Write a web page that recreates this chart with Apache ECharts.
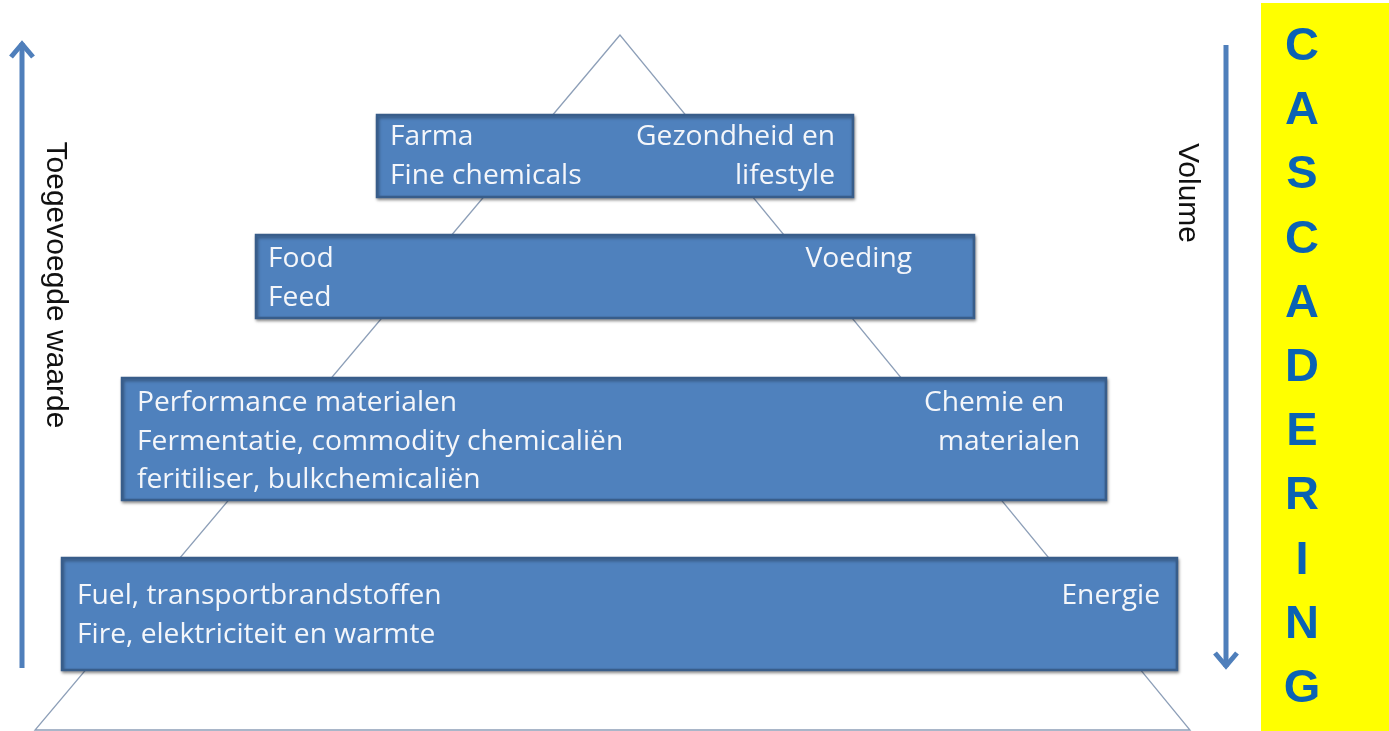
<!DOCTYPE html>
<html>
<head>
<meta charset="utf-8">
<script src="https://cdn.jsdelivr.net/npm/echarts@6/dist/echarts.min.js"></script>
<style>
html,body{margin:0;padding:0;background:#fff;}
#chart{width:1389px;height:731px;}
</style>
</head>
<body>
<div id="chart"></div>
<script>
// ---- data ----
const tierLeftLabels = [
  ["Farma", "Fine chemicals"],
  ["Food", "Feed"],
  ["Performance materialen", "Fermentatie, commodity chemicaliën", "feritiliser, bulkchemicaliën"],
  ["Fuel, transportbrandstoffen", "Fire, elektriciteit en warmte"]
];
const tierRightLabels = [
  ["Gezondheid en", "lifestyle"],
  ["Voeding"],
  ["Chemie en", "materialen"],
  ["Energie"]
];
const tierXStart = [377, 256, 122, 62];
const tierXEnd = [853, 974, 1106, 1177];
const tierYStart = [115, 235, 378, 558];
const tierYEnd = [197, 318, 500, 670];
const pyramidX = [620, 35, 1190];
const pyramidY = [35, 730, 730];
const leftAxisLabel = "Toegevoegde waarde";
const rightAxisLabel = "Volume";
const sideWord = "CASCADERING".split("");

// ---- styling ----
const boxFill = "#4f81bd";
const boxStroke = "#385d8a";
const textColor = "#f4f6fa";
const fontFam = "'Open Sans', 'Liberation Sans', sans-serif";
const textFont = '28.2px ' + fontFam;
const textFirstOffset = [22, 24, 25, 38];
const lineGap = 38.5;
const leftPad = [13, 12, 15, 15];
// right label anchor: [offset from right edge, align]
const rightAnchors = [
  [[18, 'right'], [18, 'right']],
  [[62, 'right']],
  [[182, 'left'], [168, 'left']],
  [[17, 'right']]
];

const chart = echarts.init(document.getElementById('chart'), null, {renderer: 'canvas'});

const boxData = tierXStart.map((x, i) => [x, tierXEnd[i], tierYStart[i], tierYEnd[i], i]);

function renderBox(params, api) {
  const i = api.value(4);
  const p0 = api.coord([api.value(0), api.value(2)]);
  const p1 = api.coord([api.value(1), api.value(3)]);
  const children = [{
    type: 'rect',
    shape: {x: p0[0], y: p0[1], width: p1[0] - p0[0], height: p1[1] - p0[1]},
    style: {fill: boxFill, stroke: boxStroke, lineWidth: 2.5,
      shadowBlur: 3, shadowColor: 'rgba(0,0,0,0.35)', shadowOffsetX: 1, shadowOffsetY: 2}
  }];
  tierLeftLabels[i].forEach((t, k) => {
    children.push({
      type: 'text',
      x: p0[0] + leftPad[i],
      y: p0[1] + textFirstOffset[i] + k * lineGap,
      style: {text: t, fill: textColor, font: textFont, align: 'left', verticalAlign: 'middle'}
    });
  });
  tierRightLabels[i].forEach((t, k) => {
    const a = rightAnchors[i][k];
    children.push({
      type: 'text',
      x: p1[0] - a[0],
      y: p0[1] + textFirstOffset[i] + k * lineGap,
      style: {text: t, fill: textColor, font: textFont, align: a[1], verticalAlign: 'middle'}
    });
  });
  return {type: 'group', children: children};
}

function renderPyramid(params, api) {
  const pts = pyramidX.map((x, k) => api.coord([x, pyramidY[k]]));
  return {
    type: 'polygon',
    shape: {points: pts},
    style: {fill: 'none', stroke: '#8d9fb8', lineWidth: 1.3}
  };
}

function renderDecor(params, api) {
  const c = (x, y) => api.coord([x, y]);
  const blue = '#4f7fbb';
  const children = [];
  // left arrow (up)
  const la0 = c(22, 668), la1 = c(22, 43);
  children.push({type: 'line', shape: {x1: la0[0], y1: la0[1], x2: la1[0], y2: la1[1]}, style: {stroke: blue, lineWidth: 5}});
  children.push({type: 'polyline', shape: {points: [c(11, 57), c(22, 44), c(33, 57)]}, style: {stroke: blue, lineWidth: 5, fill: 'none', lineJoin: 'miter'}});
  // right arrow (down)
  const ra0 = c(1226, 45), ra1 = c(1226, 667);
  children.push({type: 'line', shape: {x1: ra0[0], y1: ra0[1], x2: ra1[0], y2: ra1[1]}, style: {stroke: blue, lineWidth: 5}});
  children.push({type: 'polyline', shape: {points: [c(1215, 653), c(1226, 666), c(1237, 653)]}, style: {stroke: blue, lineWidth: 5, fill: 'none', lineJoin: 'miter'}});
  // rotated labels
  const lt = c(55, 285);
  children.push({type: 'text', x: lt[0], y: lt[1], rotation: -Math.PI / 2,
    style: {text: leftAxisLabel, fill: '#111', font: '30px Liberation Sans, Arial, sans-serif', align: 'center', verticalAlign: 'middle'}});
  const rt = c(1187, 193);
  children.push({type: 'text', x: rt[0], y: rt[1], rotation: -Math.PI / 2,
    style: {text: rightAxisLabel, fill: '#111', font: '30px Liberation Sans, Arial, sans-serif', align: 'center', verticalAlign: 'middle'}});
  // yellow panel
  const y0 = c(1261, 3), y1 = c(1389, 731);
  children.push({type: 'rect', shape: {x: y0[0], y: y0[1], width: y1[0] - y0[0], height: y1[1] - y0[1]}, style: {fill: '#ffff00'}});
  sideWord.forEach((ch, k) => {
    const p = c(1302, 47 + k * 64.2);
    children.push({type: 'text', x: p[0], y: p[1],
      style: {text: ch, fill: '#0a62b4', font: 'bold 47px Liberation Sans, Arial, sans-serif', align: 'center', verticalAlign: 'middle'}});
  });
  return {type: 'group', children: children};
}

chart.setOption({
  animation: false,
  backgroundColor: '#ffffff',
  grid: {left: 0, right: 0, top: 0, bottom: 0},
  xAxis: {type: 'value', min: 0, max: 1389, show: false},
  yAxis: {type: 'value', min: 0, max: 731, inverse: true, show: false},
  series: [
    {type: 'custom', renderItem: renderPyramid, data: [[0, 0]], z: 1, silent: true},
    {type: 'custom', renderItem: renderBox, data: boxData, z: 2, silent: true},
    {type: 'custom', renderItem: renderDecor, data: [[0, 0]], z: 3, silent: true}
  ]
});
</script>
</body>
</html>
